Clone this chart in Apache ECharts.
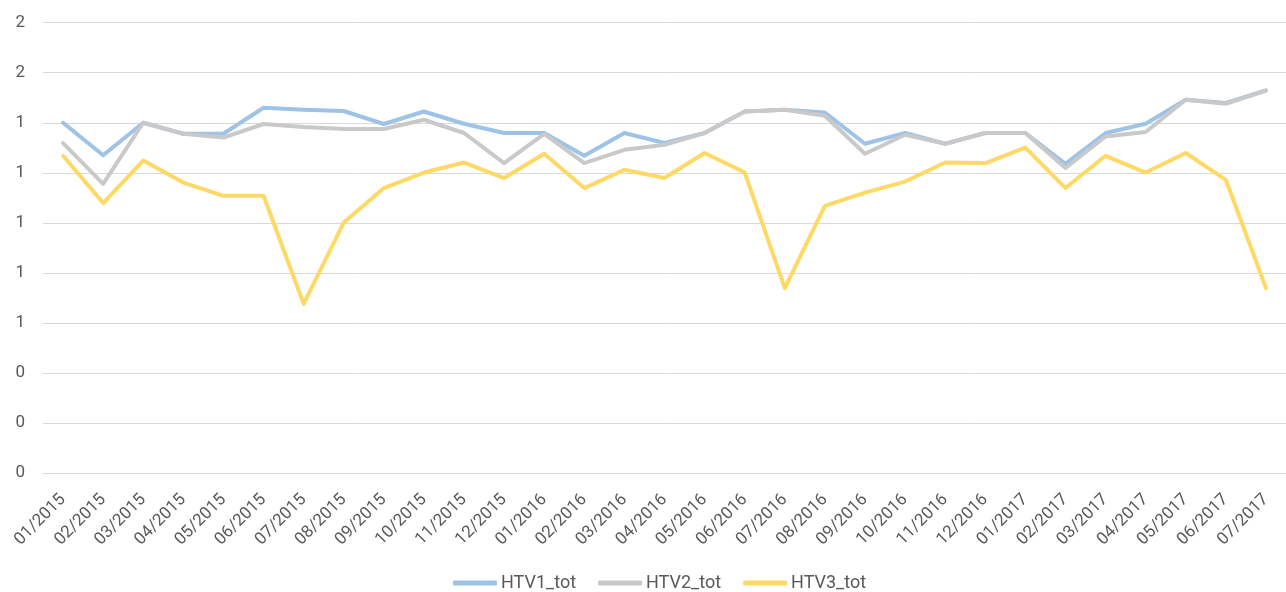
<!DOCTYPE html>
<html>
<head>
<meta charset="utf-8">
<script src="https://cdn.jsdelivr.net/npm/echarts@6/dist/echarts.min.js"></script>
<style>
	html,body{margin:0;padding:0;background:#fff;}
	#lineContainer{width:1286px;height:592px;}
</style>
</head>
<body>
<div id="lineContainer"></div>
<script>
// 月份
var months = ['01/2015','02/2015','03/2015','04/2015','05/2015','06/2015','07/2015','08/2015','09/2015','10/2015','11/2015','12/2015',
	'01/2016','02/2016','03/2016','04/2016','05/2016','06/2016','07/2016','08/2016','09/2016','10/2016','11/2016','12/2016',
	'01/2017','02/2017','03/2017','04/2017','05/2017','06/2017','07/2017'];

var htv1 = [1.40,1.27,1.40,1.356,1.356,1.46,1.452,1.447,1.395,1.445,1.396,1.359,
	1.359,1.268,1.359,1.319,1.359,1.445,1.452,1.441,1.316,1.359,1.316,1.359,
	1.359,1.236,1.359,1.396,1.492,1.479,1.529];

var htv2 = [1.319,1.156,1.40,1.356,1.341,1.395,1.383,1.375,1.375,1.412,1.359,1.239,
	1.356,1.239,1.292,1.312,1.359,1.445,1.452,1.428,1.276,1.352,1.316,1.359,
	1.359,1.219,1.345,1.363,1.492,1.476,1.529];

var htv3 = [1.268,1.079,1.249,1.161,1.108,1.108,0.676,1.001,1.139,1.201,1.241,1.179,
	1.276,1.139,1.212,1.179,1.279,1.201,0.739,1.068,1.121,1.165,1.241,1.239,
	1.301,1.139,1.268,1.201,1.279,1.172,0.739];

var seriesNames = ['HTV1_tot','HTV2_tot','HTV3_tot'];
var seriesColors = ['#9dc3e6','#c9c9c9','#ffd966'];

window.onload = function(){
	var myLineChart = echarts.init(document.getElementById('lineContainer'));
	var font = 'Roboto,sans-serif';

	var data = [htv1, htv2, htv3];
	var series = [];
	for(var i=0;i<data.length;i++){
		series.push({
			name: seriesNames[i],
			type: 'line',
			data: data[i],
			symbol: 'none',
			lineStyle: {width: 4, color: seriesColors[i], cap: 'round', join: 'round'},
			itemStyle: {color: seriesColors[i]}
		});
	}

	var option = {
		animation: false,
		grid: {left: 43, top: 22.7, width: 1248, bottom: 119},
		legend: {
			data: seriesNames,
			top: 569,
			left: 448,
			icon: 'roundRect',
			itemWidth: 44,
			itemHeight: 5,
			itemGap: 22,
			textStyle: {color: '#595959', fontSize: 18, fontFamily: font, padding: [0,0,0,-1]}
		},
		xAxis: {
			type: 'category',
			data: months,
			boundaryGap: true,
			axisLine: {show: true, lineStyle: {color: '#d9d9d9', width: 1}},
			axisTick: {show: false},
			axisLabel: {rotate: 45, interval: 0, color: '#595959', fontSize: 17, fontFamily: font, margin: 24}
		},
		yAxis: {
			type: 'value',
			min: 0,
			max: 1.8,
			interval: 0.2,
			axisLine: {show: false},
			axisTick: {show: false},
			splitLine: {lineStyle: {color: '#d9d9d9', width: 1}},
			axisLabel: {
				color: '#595959', fontSize: 17, fontFamily: font, margin: 18,
				formatter: function(v){ return Math.round(v).toString(); }
			}
		},
		series: series
	};

	myLineChart.setOption(option);
};
</script>
</body>
</html>
